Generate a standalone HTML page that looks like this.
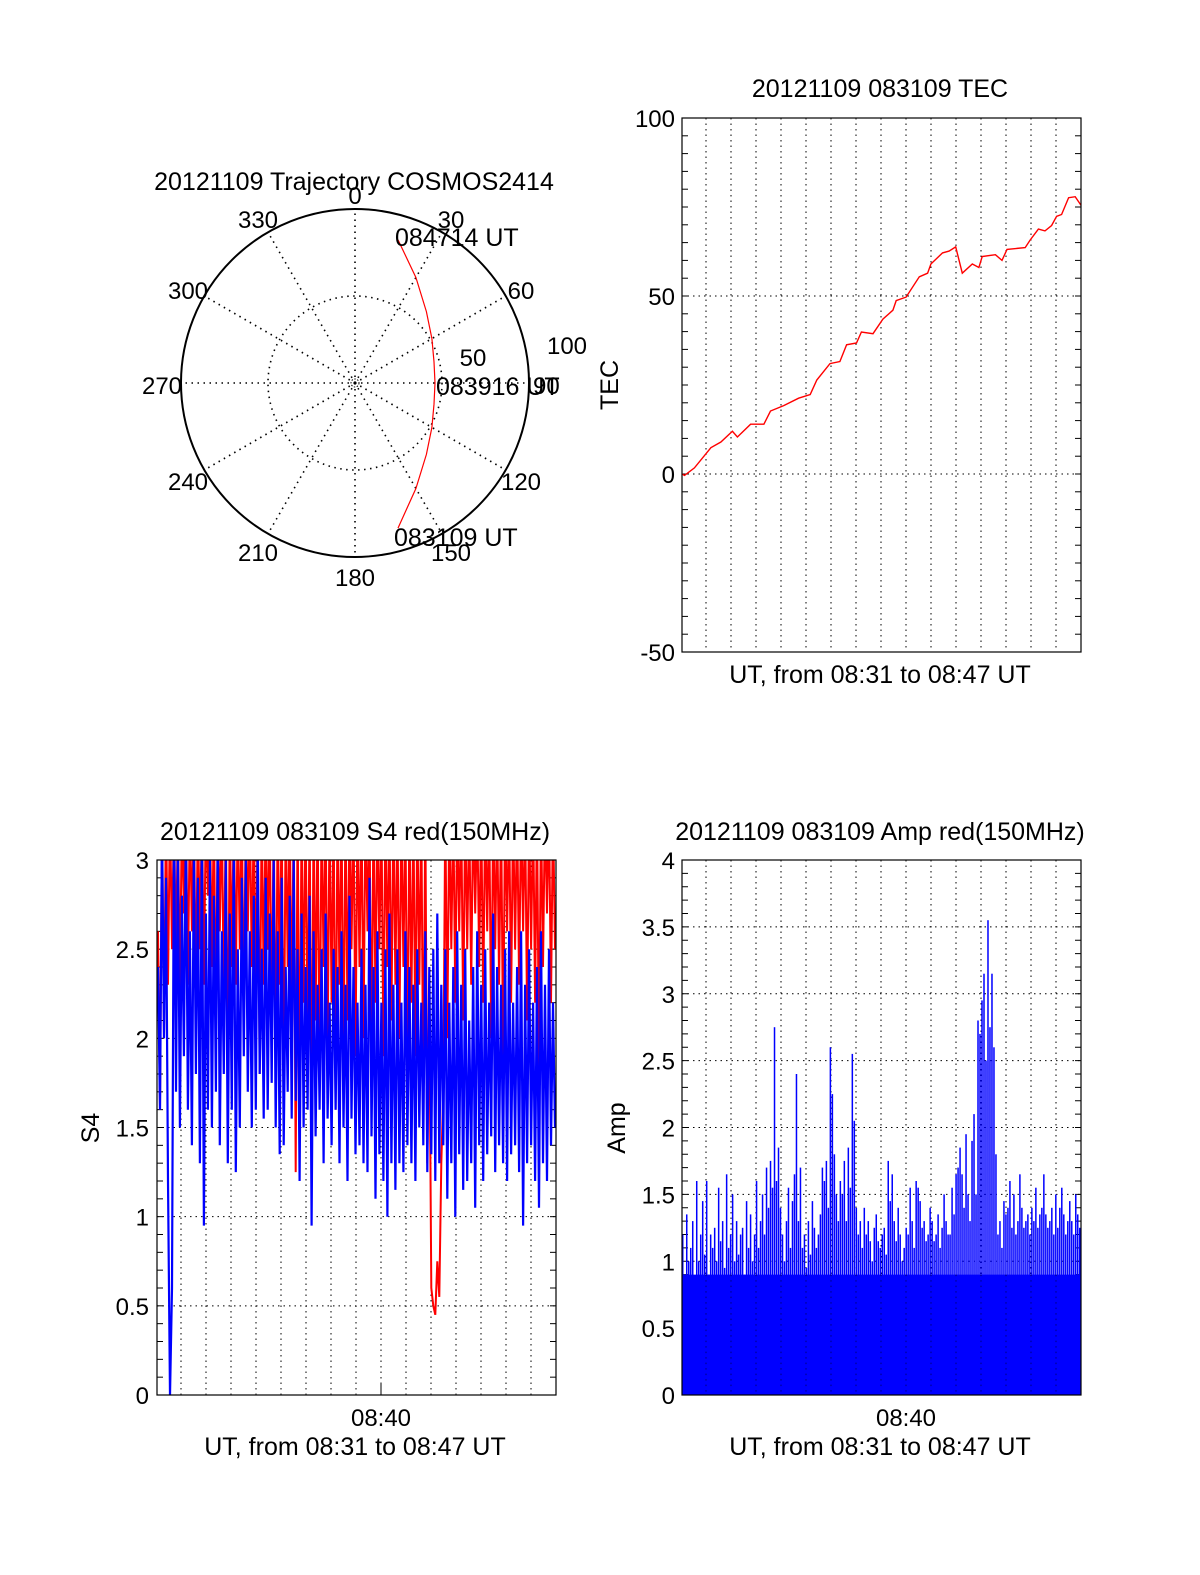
<!DOCTYPE html>
<html><head><meta charset="utf-8"><style>
html,body{margin:0;padding:0;background:#fff;}
svg{display:block;font-family:"Liberation Sans",sans-serif;}
text{fill:#000;}
</style></head><body>
<svg id="fig" width="1200" height="1575" viewBox="0 0 1200 1575" xmlns="http://www.w3.org/2000/svg">
<defs>
<clipPath id="clipS4"><rect x="157" y="860" width="399" height="535"/></clipPath>
<clipPath id="clipAmp"><rect x="682" y="860" width="399" height="535"/></clipPath>
<clipPath id="clipTec"><rect x="682" y="118" width="399" height="534"/></clipPath>
</defs>
<g id="polar"></g>
<g id="tec"></g>
<g id="s4"></g>
<g id="amp"></g>
</svg>
<script>
// ---------- data ----------
const trajAz = [163.5,150,135,120,105,90,75,60,45,30,16.7];
const trajZen = [87,70,58,51,47,46,47,51,58,70,86];
const polarAngleLabels = ["0","30","60","90","120","150","180","210","240","270","300","330"];

const tecTime = [0,6,30,70,94,122,134,166,198,214,246,282,310,326,358,382,398,422,434,462,486,510,518,542,574,594,602,630,646,662,678,702,718,726,758,774,786,830,842,862,878,894,906,918,935,951,965];
const tecVal = [0,-0.4,1.7,7.4,9,12,10.4,14,14,17.7,19.2,21.3,22.3,26.4,31,31.6,36.3,36.8,39.9,39.4,43.5,46,48.7,49.7,55.4,56.4,59,62.1,62.6,63.8,56.4,59,58,61.1,61.6,60,63.1,63.6,65.7,68.8,68.3,69.8,72.4,72.9,77.6,77.9,75.5];
const tecYTicks = [100,50,0,-50];

const s4Blue = [
2.4,1.6,3.2,2.0,2.9,1.2,0.0,0.6,3.3,1.7,3.1,1.5,2.8,1.9,3.2,1.6,2.6,1.4,3.1,1.8,
2.9,1.3,3.2,0.95,2.7,1.6,3.0,1.5,2.8,1.7,3.2,1.4,2.6,1.8,3.0,1.3,2.7,1.6,3.1,1.25,
2.5,1.5,2.9,1.9,3.0,1.7,2.6,1.5,2.8,1.6,3.1,1.8,2.5,1.55,2.9,1.6,2.7,1.75,3.0,1.5,
2.6,1.35,2.9,1.4,2.4,1.7,2.8,1.55,3.0,1.65,2.5,1.2,2.7,1.5,2.4,1.6,2.8,0.95,2.6,1.45,
2.3,1.6,2.5,1.3,2.7,1.55,2.2,1.4,2.5,1.6,2.4,1.3,2.6,1.5,2.3,1.2,2.8,1.55,2.4,1.35,
2.2,1.4,2.5,1.3,2.3,1.25,2.9,1.45,2.4,1.1,2.6,1.35,2.2,1.2,2.5,1.0,2.7,1.3,2.3,1.15,
2.5,1.3,2.2,1.25,2.6,1.4,2.4,1.3,2.3,1.2,2.5,1.5,2.2,1.4,2.6,1.25,2.4,1.35,2.5,1.2,
2.7,1.3,2.3,1.4,2.5,1.1,2.2,1.3,2.4,1.0,2.6,1.35,2.3,1.15,2.5,1.2,2.1,1.3,2.4,1.05,
2.6,1.4,2.3,1.2,2.5,1.35,2.2,1.45,2.7,1.25,2.4,1.4,2.3,1.3,2.5,1.2,2.6,1.35,2.2,1.4,
2.4,1.25,2.6,0.95,2.3,1.3,2.5,1.4,2.2,1.2,2.4,1.05,2.6,1.3,2.3,1.2,2.5,1.4,2.2,1.5];
const s4Red = [
2.6,1.6,3.3,2.0,3.3,2.3,3.3,2.5,3.3,2.4,3.3,2.2,3.3,2.7,3.3,2.3,3.3,2.6,3.3,2.2,
3.3,2.5,3.3,2.3,3.3,2.8,3.3,2.4,3.3,2.0,3.3,2.6,3.3,2.2,3.3,1.7,3.3,2.4,3.3,2.3,
3.3,2.5,3.3,2.1,3.3,2.6,3.3,2.4,3.3,2.2,3.3,1.8,3.3,2.3,3.3,2.5,3.3,2.0,3.3,1.75,
3.3,2.3,3.3,1.6,3.3,2.4,3.3,2.1,3.3,1.25,3.3,1.5,3.3,2.2,3.3,1.9,3.3,1.4,3.3,2.1,
3.3,1.7,3.3,2.4,3.3,1.9,3.3,2.2,3.3,1.6,3.3,2.3,3.3,1.8,3.3,2.1,3.3,2.5,3.3,1.9,
3.3,2.4,3.3,2.0,3.3,2.6,3.3,1.8,3.3,2.2,3.3,2.5,3.3,1.9,3.3,2.4,3.3,2.1,3.3,2.3,
3.3,2.0,3.3,2.4,3.3,1.7,3.3,2.2,3.3,1.9,3.3,2.3,3.3,1.6,3.3,1.3,2.2,0.6,0.5,0.45,
0.75,0.55,1.3,1.7,3.3,2.0,3.3,2.5,3.3,2.2,3.3,2.6,3.3,2.1,3.3,2.5,3.3,2.3,3.3,2.7,
3.3,2.4,3.3,2.2,3.3,2.6,3.3,2.0,3.3,2.5,3.3,2.3,3.3,1.9,3.3,2.6,3.3,2.2,3.3,2.5,
3.3,2.3,3.3,2.6,3.3,2.1,3.3,2.5,3.3,2.2,3.3,1.8,3.3,2.4,3.3,2.7,3.3,2.2,3.3,2.5];
const s4YTicks = ["0","0.5","1","1.5","2","2.5","3"];

const ampVal = [
1.2,0.9,1.35,1.0,1.1,1.3,0.85,1.6,1.0,1.2,1.45,1.05,1.6,0.9,1.2,1.1,1.25,1.0,1.55,1.15,
1.3,0.95,1.65,1.1,1.2,1.5,1.0,1.3,1.05,1.2,1.25,0.9,1.45,1.1,1.35,1.0,1.2,1.6,1.1,1.3,
1.5,1.2,1.7,1.4,1.75,1.55,2.75,1.6,1.85,1.4,1.2,1.0,1.3,1.55,1.1,1.45,1.65,2.4,1.3,1.7,
1.1,1.2,0.95,1.3,1.05,1.45,1.25,1.1,1.2,1.35,1.7,1.6,1.75,1.4,2.6,2.25,1.8,1.5,1.3,1.6,
1.5,1.75,1.3,1.85,1.55,2.55,2.05,1.4,1.2,1.3,1.1,1.4,1.2,1.3,1.15,1.0,1.25,1.35,1.15,1.1,
1.2,1.25,1.05,1.75,1.45,1.65,1.3,1.15,1.4,1.2,1.0,1.1,1.25,1.2,1.55,1.3,1.1,1.6,1.55,1.45,
1.25,1.3,1.15,1.2,1.4,1.3,1.15,1.2,1.35,1.1,1.25,1.5,1.3,1.2,1.2,1.55,1.35,1.65,1.7,1.85,
1.65,1.4,1.95,1.5,1.3,1.9,2.1,1.5,2.8,2.7,2.95,3.15,2.5,3.55,2.75,3.15,2.6,1.8,1.2,1.3,
1.1,1.45,1.35,1.4,1.6,1.25,1.5,1.2,1.3,1.65,1.4,1.25,1.3,1.35,1.2,1.4,1.3,1.55,1.25,1.35,
1.4,1.65,1.35,1.25,1.3,1.4,1.2,1.5,1.25,1.4,1.55,1.35,1.2,1.3,1.45,1.3,1.2,1.5,1.35,1.25];
const ampYTicks = ["0","0.5","1","1.5","2","2.5","3","3.5","4"];

const FT=25, FK=24;

// ---------- helpers ----------
const NS="http://www.w3.org/2000/svg";
function mk(parent,tag,attrs,txt){const e=document.createElementNS(NS,tag);for(const k in attrs)e.setAttribute(k,attrs[k]);if(txt!==undefined)e.textContent=txt;parent.appendChild(e);return e;}

// ---------- polar ----------
(function(){
  const g=document.getElementById('polar');
  const cx=355,cy=383,R=174;
  const t=mk(g,'text',{x:354,y:190,'font-size':FT,'text-anchor':'middle'},'20121109 Trajectory COSMOS2414');
  
  
  for(let a=0;a<360;a+=30){
    const r=a*Math.PI/180;
    const sp=mk(g,'line',{x1:cx,y1:cy,x2:cx+R*Math.sin(r),y2:cy-R*Math.cos(r),stroke:'#000','stroke-width':1.6,'stroke-dasharray':'1.5 4.5'});
    
    
  }
  const c2=mk(g,'circle',{cx:cx,cy:cy,r:R/2,fill:'none',stroke:'#000','stroke-width':1.6,'stroke-dasharray':'1.5 4.5'});
  
  
  const c3=mk(g,'circle',{cx:cx,cy:cy,r:4,fill:'none',stroke:'#000','stroke-width':1,'stroke-dasharray':'1.5 1.5'});
  
  
  const c1=mk(g,'circle',{cx:cx,cy:cy,r:R,fill:'none',stroke:'#000','stroke-width':2});
  
  
  const lp=[[355,204,'middle'],[451,228,'middle'],[521,299,'middle'],[533,394,'start'],[521,490,'middle'],[451,561,'middle'],[355,586,'middle'],[258,561,'middle'],[188,490,'middle'],[162,394,'middle'],[188,299,'middle'],[258,228,'middle']];
  polarAngleLabels.forEach((s,i)=>{
    const e=mk(g,'text',{x:lp[i][0],y:lp[i][1],'font-size':FK,'text-anchor':lp[i][2]},s);
    
    
  });
  const r100=mk(g,'text',{x:567,y:354,'font-size':FK,'text-anchor':'middle'},'100');
  
  
  const r50=mk(g,'text',{x:473,y:366,'font-size':FK,'text-anchor':'middle'},'50');
  
  
  const pts=trajAz.map((a,i)=>{const r=a*Math.PI/180,d=trajZen[i]/100*R;return (cx+d*Math.sin(r)).toFixed(1)+','+(cy-d*Math.cos(r)).toFixed(1);});
  const pl=mk(g,'polyline',{points:pts.join(' '),fill:'none',stroke:'#f00','stroke-width':1.2});
  
  
  const a1=mk(g,'text',{x:395,y:246,'font-size':FT},'084714 UT');
  
  
  const a2=mk(g,'text',{x:436,y:395,'font-size':FT},'083916 UT');
  
  
  const a3=mk(g,'text',{x:394,y:546,'font-size':FT},'083109 UT');
  
  
})();

// ---------- generic axes ----------
function frame(g,L,T,W,H,minorStep,nMinor,hGrids,xLabel08){
  const R=L+W,B=T+H;
  for(let k=0;k<16;k++){
    const x=L+24+25*k;
    const gl=mk(g,'line',{x1:x,y1:T,x2:x,y2:B,stroke:'#000','stroke-width':1,'stroke-dasharray':'1.5 4'});
    
    
  }
  hGrids.forEach(y=>{
    const gl=mk(g,'line',{x1:L,y1:y,x2:R,y2:y,stroke:'#000','stroke-width':1,'stroke-dasharray':'1.5 4'});
    
    
  });
  for(let i=1;i<nMinor;i++){
    const y=T+i*H/nMinor;
    const t1=mk(g,'line',{x1:L,y1:y,x2:L+6,y2:y,stroke:'#000','stroke-width':1});
    
    
    const t2=mk(g,'line',{x1:R-6,y1:y,x2:R,y2:y,stroke:'#000','stroke-width':1});
    
    
  }
  if(xLabel08){
    const x=L+24+25*8;
    const mt=mk(g,'line',{x1:x,y1:B-12,x2:x,y2:B,stroke:'#000','stroke-width':1});
    
    
    const tl=mk(g,'text',{x:x,y:B+31,'font-size':FK,'text-anchor':'middle'},'08:40');
    
    
  }
}
function box(g,L,T,W,H){
  const b=mk(g,'rect',{x:L,y:T,width:W,height:H,fill:'none',stroke:'#000','stroke-width':1.2});
  
  
}

// ---------- TEC ----------
(function(){
  const g=document.getElementById('tec');
  const L=682,T=118,W=399,H=534;
  const y=v=>T+(100-v)/150*H;
  const x=s=>L+s/965*W;
  const ti=mk(g,'text',{x:880,y:97,'font-size':FT,'text-anchor':'middle'},'20121109 083109 TEC');
  
  
  frame(g,L,T,W,H,5,30,[y(50),y(0)],false);
  tecYTicks.forEach(v=>{
    const e=mk(g,'text',{x:675,y:y(v)+9,'font-size':FK,'text-anchor':'end'},String(v));
    
    
  });
  const pts=tecTime.map((s,i)=>x(s).toFixed(1)+','+y(tecVal[i]).toFixed(1)).join(' ');
  const pl=mk(g,'polyline',{points:pts,fill:'none',stroke:'#f00','stroke-width':1.4,'clip-path':'url(#clipTec)'});
  
  
  box(g,L,T,W,H);
  const yl=mk(g,'text',{x:0,y:0,'font-size':FT,'text-anchor':'middle',transform:'translate(618,385) rotate(-90)'},'TEC');
  
  
  const xl=mk(g,'text',{x:880,y:683,'font-size':FT,'text-anchor':'middle'},'UT, from 08:31 to 08:47 UT');
  
  
})();

// ---------- S4 ----------
(function(){
  const g=document.getElementById('s4');
  const L=157,T=860,W=399,H=535;
  const y=v=>T+(3-v)/3*H;
  const x=i=>L+1+i*(W-2)/(s4Blue.length-1);
  const ti=mk(g,'text',{x:355,y:840,'font-size':FT,'text-anchor':'middle'},'20121109 083109 S4 red(150MHz)');
  
  
  frame(g,L,T,W,H,0.1,30,[y(2.5),y(2),y(1.5),y(1),y(0.5)],true);
  const pr=s4Red.map((v,i)=>x(i).toFixed(1)+','+y(v).toFixed(1)).join(' ');
  const r=mk(g,'polyline',{points:pr,fill:'none',stroke:'#f00','stroke-width':2,'clip-path':'url(#clipS4)'});
  
  
  const pb=s4Blue.map((v,i)=>x(i).toFixed(1)+','+y(v).toFixed(1)).join(' ');
  const b=mk(g,'polyline',{points:pb,fill:'none',stroke:'#00f','stroke-width':2.2,'clip-path':'url(#clipS4)'});
  
  
  box(g,L,T,W,H);
  s4YTicks.forEach(s=>{
    const e=mk(g,'text',{x:149,y:y(parseFloat(s))+9,'font-size':FK,'text-anchor':'end'},s);
    
    
  });
  const yl=mk(g,'text',{x:0,y:0,'font-size':FT,'text-anchor':'middle',transform:'translate(99,1128) rotate(-90)'},'S4');
  
  
  const xl=mk(g,'text',{x:355,y:1455,'font-size':FT,'text-anchor':'middle'},'UT, from 08:31 to 08:47 UT');
  
  
})();

// ---------- Amp ----------
(function(){
  const g=document.getElementById('amp');
  const L=682,T=860,W=399,H=535;
  const y=v=>T+(4-v)/4*H;
  const bw=W/ampVal.length;
  const ti=mk(g,'text',{x:880,y:840,'font-size':FT,'text-anchor':'middle'},'20121109 083109 Amp red(150MHz)');
  
  
  frame(g,L,T,W,H,0.1,40,[y(3.5),y(3),y(2.5),y(2),y(1.5),y(1),y(0.5)],true);
  ampVal.forEach((v,i)=>{
    const xx=L+i*bw;
    const bar=mk(g,'rect',{x:xx.toFixed(2),y:y(v).toFixed(1),width:(bw*0.75).toFixed(2),height:(y(0)-y(v)).toFixed(1),fill:'#00f','clip-path':'url(#clipAmp)'});
    
    
  });
  const base=mk(g,'rect',{x:L,y:y(0.9),width:W,height:y(0)-y(0.9),fill:'#00f'});
  
  
  for(let k=0;k<16;k++){
    const xg=L+24+25*k;
    const gl=mk(g,'line',{x1:xg,y1:y(0.9),x2:xg,y2:y(0),stroke:'#000','stroke-width':1,'stroke-dasharray':'1.5 4','opacity':0.5});
    
    
  }
  box(g,L,T,W,H);
  ampYTicks.forEach(s=>{
    const e=mk(g,'text',{x:675,y:y(parseFloat(s))+9,'font-size':FK,'text-anchor':'end'},s);
    
    
  });
  const yl=mk(g,'text',{x:0,y:0,'font-size':FT,'text-anchor':'middle',transform:'translate(625,1128) rotate(-90)'},'Amp');
  
  
  const xl=mk(g,'text',{x:880,y:1455,'font-size':FT,'text-anchor':'middle'},'UT, from 08:31 to 08:47 UT');
  
  
})();
</script>
</body></html>
